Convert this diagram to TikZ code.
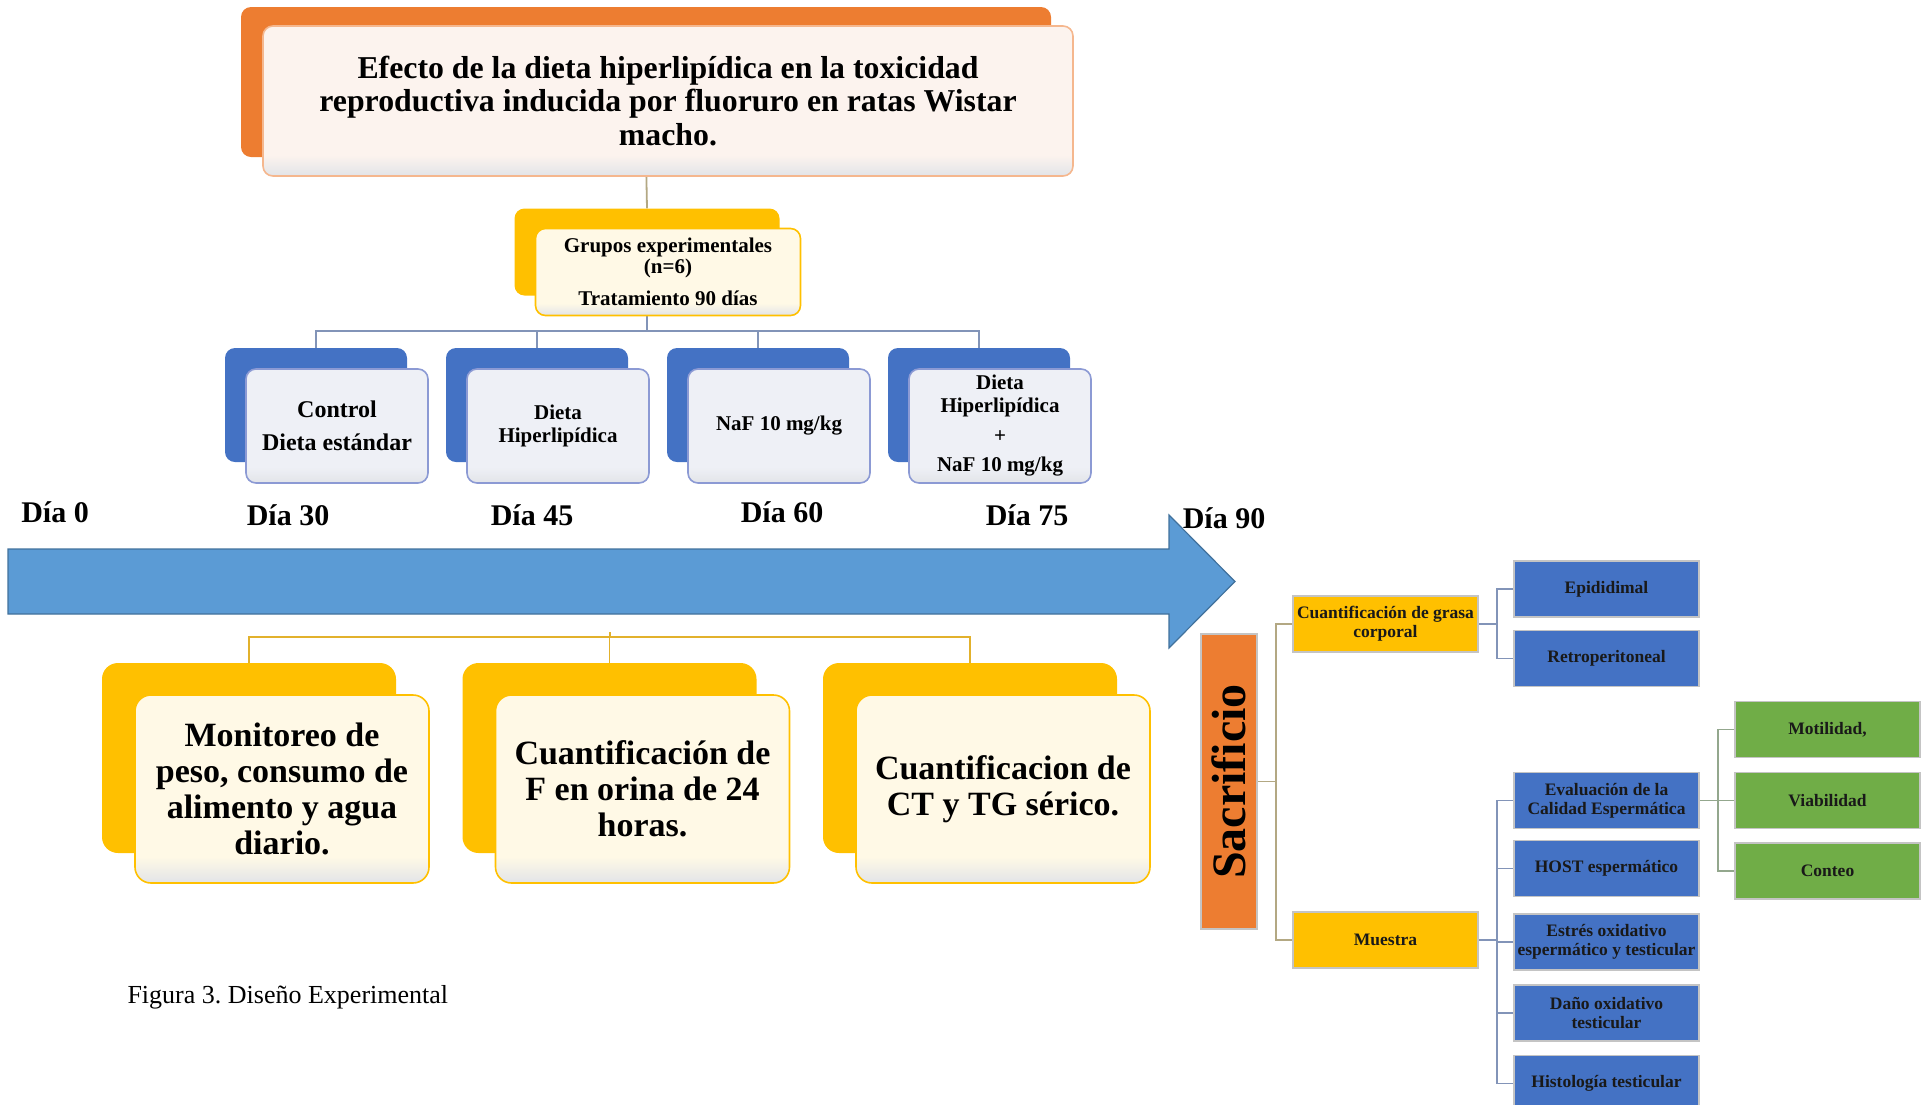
\documentclass[tikz,border=0pt]{standalone}
\usepackage{fontspec}
\setmainfont{Liberation Serif}
\usepackage{tikz}
\usetikzlibrary{calc,backgrounds,positioning}

\definecolor{naranja}{HTML}{ED7D31}
\definecolor{oro}{HTML}{FFC000}
\definecolor{azul}{HTML}{4472C4}
\definecolor{azulflecha}{HTML}{5B9BD5}
\definecolor{azulborde}{HTML}{41719C}
\definecolor{azullinea}{HTML}{8C9AD4}
\definecolor{verde}{HTML}{70AD47}
\definecolor{crematit}{HTML}{FCF3EE}
\definecolor{cremaoro}{HTML}{FFF9E6}
\definecolor{cremaazul}{HTML}{EEF0F6}
\definecolor{grisfondo}{HTML}{E2E4E8}
\definecolor{lineatan}{HTML}{B3A883}
\definecolor{lineaazul}{HTML}{8294B8}
\definecolor{lineaverde}{HTML}{93A78D}
\definecolor{lineaoro}{HTML}{E2B12C}
\definecolor{bordegris}{HTML}{C4C4C4}

% sombreado de las cajas de frente (gris abajo)
\pgfdeclareverticalshading{somtit}{100bp}{color(0bp)=(grisfondo); color(25bp)=(grisfondo); color(32bp)=(crematit); color(100bp)=(crematit)}
\pgfdeclareverticalshading{somoro}{100bp}{color(0bp)=(grisfondo); color(25bp)=(grisfondo); color(32bp)=(cremaoro); color(100bp)=(cremaoro)}
\pgfdeclareverticalshading{somazul}{100bp}{color(0bp)=(grisfondo); color(25bp)=(grisfondo); color(32bp)=(cremaazul); color(100bp)=(cremaazul)}

\tikzset{
  fondo/.style={rounded corners=10pt, inner sep=0pt},
  frente/.style={rounded corners=10pt, shade, line width=1.6pt, align=center, inner sep=0pt},
  tira/.style={draw=bordegris, line width=1.4pt, align=center, inner sep=0pt,
    minimum width=185pt, minimum height=56pt, text=black!90,
    font=\fontsize{17.5}{19}\selectfont\bfseries},
  dia/.style={font=\fontsize{30}{32}\selectfont\bfseries},
  enlace/.style={line width=1.8pt},
}

\begin{document}
\frenchspacing
\begin{tikzpicture}[x=1pt,y=-1pt]
\useasboundingbox (0,0) rectangle (1927,1104);

% titulo
\node[fondo, fill=naranja, minimum width=810pt, minimum height=150pt] (tfondo) at (646,82) {};
\node[frente, shading=somtit, draw=naranja!55, minimum width=810pt, minimum height=150pt,
  font=\fontsize{31.8}{33.5}\selectfont\bfseries] (titulo) at (668,101)
  {Efecto de la dieta hiperlipídica en la toxicidad\\reproductiva inducida por fluoruro en ratas Wistar\\macho.};

% grupos
\node[fondo, fill=oro, minimum width=265pt, minimum height=87pt] (gfondo) at (647,252) {};
\node[frente, shading=somoro, draw=oro, minimum width=265pt, minimum height=87pt,
  font=\fontsize{21}{21}\selectfont\bfseries] (grupos) at (668,272)
  {Grupos experimentales\\(n=6)\\[11pt]Tratamiento 90 días};

% cajas azules
\foreach \i/\txt in {1/{},2/{Dieta\\Hiperlipídica},3/{NaF 10 mg/kg},4/{Dieta\\Hiperlipídica\\[7pt]+\\[6pt]NaF 10 mg/kg}} {
  \node[fondo, fill=azul, minimum width=182pt, minimum height=114pt] (afondo\i) at (316+221*\i-221,405) {};
  \node[frente, shading=somazul, draw=azullinea, minimum width=182pt, minimum height=114pt,
    font=\fontsize{21}{23}\selectfont\bfseries] (grupo\i) at (337+221*\i-221,426) {\txt};
}
\node[font=\fontsize{24}{24}\selectfont\bfseries, align=center] (control) at (grupo1) {Control\\[9pt]Dieta estándar};

% dias
\node[dia] (d0) at (55,512) {Día 0};
\node[dia] (d30) at (288,515) {Día 30};
\node[dia] (d45) at (532,515) {Día 45};
\node[dia] (d60) at (782,512) {Día 60};
\node[dia] (d75) at (1027,515) {Día 75};

% flecha de tiempo
\draw[fill=azulflecha, draw=azulborde, line width=1.2pt] (8,549) -- (1169,549) -- (1169,515)
  -- (1235,581.5) -- (1169,648) -- (1169,614) -- (8,614) -- cycle;
\node[dia] (d90) at (1224,518) {Día 90};

% cajas amarillas
\foreach \i/\txt in {1/{Monitoreo de\\peso, consumo de\\alimento y agua\\diario.},2/{Cuantificación de\\F en orina de 24\\horas.},3/{Cuantificacion de\\CT y TG sérico.}} {
  \node[fondo, fill=oro, rounded corners=16pt, minimum width=294pt, minimum height=190pt] (yfondo\i) at (249+360.5*\i-360.5,758) {};
  \node[frente, shading=somoro, draw=oro, rounded corners=16pt, minimum width=294pt, minimum height=188pt,
    font=\fontsize{34}{36}\selectfont\bfseries] (medida\i) at (282+360.5*\i-360.5,789) {\txt};
}
\coordinate (ytope) at (610,632);

% sacrificio
\node[draw=bordegris, line width=1.4pt, fill=naranja, rotate=90, minimum width=295pt, minimum height=56pt,
  inner sep=0pt, font=\fontsize{48}{48}\selectfont\bfseries] (sacrificio) at (1229,781.5) {Sacrificio};
\node[tira, fill=oro] (grasa) at (1385.5,624) {Cuantificación de grasa\\corporal};
\node[tira, fill=oro] (muestra) at (1385.5,940) {Muestra};

\node[tira, fill=azul] (epi) at (1606.5,589) {Epididimal};
\node[tira, fill=azul] (retro) at (1606.5,658.5) {Retroperitoneal};
\node[tira, fill=azul] (calidad) at (1606.5,800.5) {Evaluación de la\\Calidad Espermática};
\node[tira, fill=azul] (host) at (1606.5,868.5) {HOST espermático};
\node[tira, fill=azul] (estres) at (1606.5,942) {Estrés oxidativo\\espermático y testicular};
\node[tira, fill=azul] (dano) at (1606.5,1013) {Daño oxidativo\\testicular};
\node[tira, fill=azul] (histo) at (1606.5,1083.5) {Histología testicular};

\node[tira, fill=verde] (moti) at (1827.5,729.5) {Motilidad,};
\node[tira, fill=verde] (viab) at (1827.5,800.5) {Viabilidad};
\node[tira, fill=verde] (conteo) at (1827.5,871) {Conteo};

\node[anchor=west, font=\fontsize{26}{28}\selectfont] (figura) at (124,997) {Figura 3. Diseño Experimental};

% conectores
\begin{pgfonlayer}{background}
\draw[enlace, lineatan] (tfondo.south) -- (gfondo.north);
\draw[enlace, lineaazul] (gfondo.south) -- ++(0,35) coordinate (gcruce);
\foreach \i in {1,...,4}
  \draw[enlace, lineaazul] (gcruce) -| (afondo\i.north);
\draw[enlace, lineaoro] (ytope) -- ++(0,5) coordinate (ycruce);
\foreach \i in {1,2,3}
  \draw[enlace, lineaoro] (ycruce) -| (yfondo\i.north);
\draw[enlace, lineatan] (sacrificio.south) -- ++(18,0) coordinate (scruce);
\draw[enlace, lineatan] (scruce) |- (grasa.west);
\draw[enlace, lineatan] (scruce) |- (muestra.west);
\draw[enlace, lineaazul] (grasa.east) -- ++(18,0) coordinate (gcruce2);
\foreach \n in {epi,retro}
  \draw[enlace, lineaazul] (gcruce2) |- (\n.west);
\draw[enlace, lineaazul] (muestra.east) -- ++(18,0) coordinate (mcruce);
\foreach \n in {calidad,host,estres,dano,histo}
  \draw[enlace, lineaazul] (mcruce) |- (\n.west);
\draw[enlace, lineaverde] (calidad.east) -- ++(18,0) coordinate (ccruce);
\foreach \n in {moti,viab,conteo}
  \draw[enlace, lineaverde] (ccruce) |- (\n.west);
\end{pgfonlayer}
\end{tikzpicture}
\end{document}
